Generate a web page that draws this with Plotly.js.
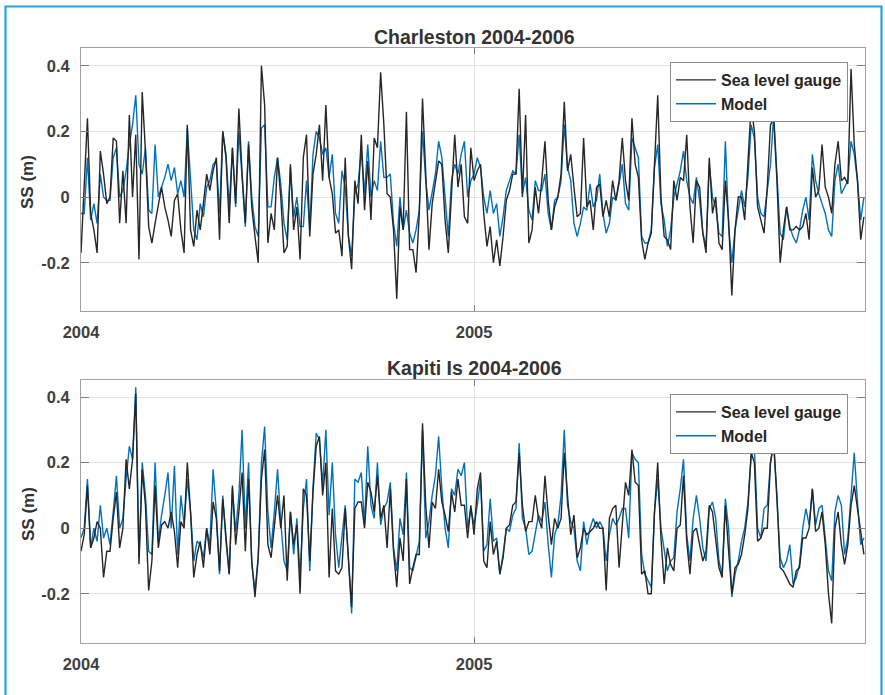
<!DOCTYPE html>
<html>
<head>
<meta charset="utf-8">
<script src="https://cdn.plot.ly/plotly-3.0.1.min.js"></script>
<style>html,body{margin:0;padding:0;background:#fff;}#chart{width:885px;height:695px;}</style>
</head>
<body>
<div id="chart"></div>
<script>
// Series sampled every 3 days from 2004-01-01
const startDate = '2004-01-01';
const stepDays = 3;

const charlestonGauge = [
-0.17,0.05,0.24,-0.05,-0.10,-0.17,0.14,0.07,-0.02,0.00,0.18,0.17,-0.08,0.08,-0.08,0.25,0.00,0.19,-0.19,0.32,0.14,-0.09,-0.14,-0.08,-0.03,0.03,-0.03,-0.07,-0.12,-0.01,0.01,-0.10,-0.17,0.22,-0.10,-0.15,-0.04,-0.10,-0.02,0.07,0.02,0.08,0.12,-0.13,0.20,0.12,-0.08,0.15,-0.02,0.27,0.07,-0.08,0.16,-0.03,-0.12,-0.20,0.40,0.28,-0.14,-0.05,-0.10,0.12,
0.00,-0.17,-0.15,0.10,-0.10,-0.03,-0.19,0.12,0.19,-0.12,0.07,0.13,0.22,0.05,0.28,0.06,0.01,-0.11,-0.10,-0.18,0.12,-0.12,-0.22,0.05,-0.02,0.19,-0.04,0.11,-0.07,0.18,0.15,0.38,0.22,0.01,0.00,-0.10,-0.31,-0.03,-0.10,0.26,-0.16,-0.16,-0.23,-0.05,0.30,0.06,-0.16,-0.02,0.05,0.11,0.10,-0.07,-0.17,0.03,0.19,0.03,0.10,-0.06,-0.08,0.15,0.05,
0.08,0.10,-0.05,-0.15,-0.09,-0.20,-0.13,-0.21,-0.12,-0.01,0.02,0.07,0.07,0.33,0.00,0.25,-0.14,-0.10,0.03,-0.05,0.05,0.17,-0.01,-0.10,-0.03,0.00,0.07,0.29,0.08,0.13,0.03,-0.06,-0.05,0.18,-0.03,-0.01,-0.10,0.03,0.04,-0.06,-0.01,-0.06,0.05,-0.01,0.05,0.18,0.05,-0.01,0.24,0.10,0.06,-0.13,-0.19,-0.14,-0.11,0.10,0.31,0.00,-0.12,-0.13,-0.16,0.05,
-0.01,0.06,0.05,0.19,-0.03,-0.14,0.05,0.03,-0.11,-0.17,0.12,-0.05,0.00,-0.14,-0.16,0.05,-0.07,-0.30,-0.10,0.00,0.00,-0.07,0.12,0.28,0.20,-0.03,-0.07,-0.11,0.03,0.22,0.24,0.05,-0.20,-0.10,-0.03,-0.10,-0.10,-0.09,-0.10,-0.09,-0.05,-0.13,0.09,0.00,0.02,0.16,0.03,0.00,-0.05,0.10,0.17,0.05,0.06,0.04,0.39,0.16,0.05,-0.13,-0.06
];

const charlestonModel = [
-0.05,-0.05,0.12,-0.07,-0.02,-0.08,0.07,0.00,-0.01,-0.01,0.12,0.15,0.00,0.02,0.08,0.16,0.22,0.31,0.10,0.07,0.15,-0.04,-0.05,0.16,0.00,0.03,0.06,0.10,0.05,0.09,0.01,0.05,0.00,0.21,0.07,-0.10,-0.13,-0.02,-0.06,0.03,0.05,0.10,0.11,-0.05,0.20,0.13,-0.03,0.15,-0.03,0.20,0.06,-0.09,0.17,0.00,-0.09,-0.12,0.21,0.22,-0.03,-0.03,0.06,0.12,
0.04,-0.08,-0.13,0.09,-0.06,0.00,-0.09,-0.09,0.05,-0.10,0.13,0.20,0.18,0.13,0.15,0.06,0.13,-0.05,-0.08,0.08,0.03,-0.12,-0.18,0.01,0.04,0.14,0.01,0.16,0.00,0.05,0.02,0.17,0.06,0.06,0.07,-0.08,-0.15,0.00,-0.10,-0.04,-0.11,-0.14,-0.10,-0.04,0.20,0.05,-0.04,0.02,0.07,0.17,0.12,0.00,-0.12,0.05,0.10,0.07,0.13,0.17,0.00,0.05,0.07,
0.12,0.09,0.00,-0.05,0.02,-0.05,-0.02,-0.12,-0.06,0.02,0.05,0.08,0.07,0.19,0.01,0.06,-0.04,-0.07,0.05,0.02,0.02,0.07,-0.05,-0.10,-0.01,0.00,0.05,0.22,0.09,0.05,-0.08,-0.12,-0.08,-0.03,-0.04,0.04,-0.03,-0.01,0.07,-0.05,-0.11,-0.08,0.00,-0.01,0.04,0.10,-0.02,-0.04,0.18,0.15,0.12,-0.12,-0.14,-0.14,-0.10,0.09,0.16,-0.02,-0.07,-0.15,-0.10,0.00,
0.04,0.08,0.14,0.05,0.00,-0.02,0.06,-0.01,-0.11,-0.15,0.10,0.00,-0.03,-0.11,-0.12,0.17,-0.09,-0.20,-0.10,-0.04,0.02,-0.03,0.06,0.22,0.18,0.00,-0.05,-0.06,0.02,0.10,0.25,0.06,-0.11,-0.13,-0.03,-0.09,-0.12,-0.14,-0.10,-0.04,0.00,-0.07,0.13,0.05,0.01,-0.02,-0.05,-0.10,-0.12,0.05,0.10,0.01,0.03,0.05,0.17,0.13,0.05,-0.07,0.00
];

const kapitiGauge = [
-0.07,-0.02,0.13,-0.06,-0.03,0.02,0.00,-0.15,-0.07,-0.07,0.03,0.11,-0.06,0.00,0.21,0.12,0.21,0.41,-0.11,0.18,0.07,-0.19,-0.10,0.13,-0.06,0.01,0.02,0.00,0.05,-0.01,-0.12,0.02,0.00,0.20,0.05,-0.15,-0.08,-0.04,-0.12,0.00,-0.08,0.08,0.03,-0.13,0.09,-0.04,-0.14,0.13,-0.05,0.05,0.17,-0.07,0.15,-0.10,-0.21,-0.09,0.15,0.24,-0.05,-0.09,0.00,0.10,
0.00,0.10,-0.16,0.05,-0.05,0.01,-0.20,0.12,0.10,-0.10,0.11,0.25,0.28,0.10,0.20,-0.15,0.06,-0.13,-0.14,-0.12,0.06,-0.10,-0.24,0.06,0.08,0.08,0.00,0.14,0.11,0.05,0.16,0.03,0.07,-0.06,0.12,-0.07,-0.18,-0.03,-0.10,0.15,-0.17,-0.12,-0.08,-0.08,0.32,0.07,-0.06,0.08,0.06,0.18,0.08,0.04,-0.01,0.11,0.05,0.15,0.07,0.07,-0.03,0.07,-0.02,
0.12,0.17,-0.10,-0.12,0.02,-0.08,-0.04,-0.14,-0.09,0.00,0.01,0.07,0.08,0.23,0.07,-0.01,0.02,0.02,0.10,0.03,0.00,0.16,0.04,-0.05,0.03,0.00,0.03,0.23,0.10,-0.02,0.04,-0.09,-0.06,0.00,-0.02,-0.01,0.00,0.02,0.00,0.00,-0.19,0.03,0.06,0.07,-0.12,0.01,0.14,0.10,0.24,0.14,0.13,-0.14,-0.13,-0.20,-0.20,0.05,0.20,-0.03,-0.17,-0.06,-0.11,-0.13,
0.00,0.01,0.16,-0.04,-0.14,-0.01,0.00,-0.05,-0.10,-0.07,0.07,0.05,-0.03,-0.12,-0.15,0.07,-0.07,-0.20,-0.12,-0.11,-0.08,-0.02,0.06,0.23,0.20,-0.04,-0.03,0.00,0.00,0.20,0.26,0.10,-0.12,-0.13,-0.15,-0.17,-0.18,-0.13,-0.12,-0.03,-0.03,0.00,0.12,-0.01,0.00,0.05,-0.05,-0.20,-0.29,0.00,0.05,-0.05,-0.11,-0.05,0.07,0.13,0.06,-0.01,-0.08
];

const kapitiModel = [
-0.03,0.00,0.15,-0.06,0.00,-0.04,0.07,-0.03,0.00,-0.05,0.05,0.16,0.00,0.03,0.15,0.25,0.21,0.43,-0.09,0.20,0.10,-0.07,-0.08,0.20,-0.04,0.04,0.10,0.17,0.00,0.19,-0.08,0.10,0.01,0.15,0.05,-0.10,-0.04,-0.05,-0.09,0.00,-0.05,0.18,0.05,-0.14,0.10,-0.04,-0.14,0.12,-0.01,0.10,0.30,0.00,0.20,-0.11,-0.19,-0.09,0.20,0.31,0.05,-0.06,0.05,0.18,
0.02,-0.10,-0.13,0.05,-0.08,0.03,-0.15,0.06,0.15,-0.13,0.12,0.29,0.27,0.13,0.30,0.04,0.20,-0.02,-0.12,-0.03,0.07,-0.10,-0.26,0.15,0.14,0.17,0.01,0.25,0.07,0.03,0.20,0.01,0.06,0.08,0.14,-0.06,-0.13,0.03,-0.02,0.17,-0.12,-0.13,-0.08,-0.04,0.30,-0.03,0.02,0.10,0.16,0.28,0.12,0.00,-0.06,0.12,0.10,0.18,0.16,0.20,0.00,0.06,0.01,
0.07,0.15,-0.07,-0.05,0.09,-0.04,-0.03,-0.14,-0.08,0.00,-0.01,0.04,0.06,0.26,0.03,0.00,-0.08,-0.07,-0.01,0.04,0.02,0.08,-0.05,-0.15,-0.02,0.01,0.10,0.30,0.07,0.02,0.00,-0.10,-0.13,0.02,-0.05,0.00,0.03,0.00,0.02,0.00,-0.10,-0.02,0.03,0.01,0.03,0.06,0.06,-0.03,0.23,0.21,0.20,-0.08,-0.14,-0.16,-0.18,0.05,0.15,0.00,-0.06,-0.13,-0.10,-0.09,
0.05,0.12,0.21,-0.02,-0.10,0.03,0.10,0.03,-0.06,-0.10,0.06,0.08,0.03,-0.10,-0.14,0.09,0.00,-0.21,-0.14,-0.10,-0.04,0.00,0.08,0.22,0.25,0.00,-0.03,0.06,0.07,0.20,0.26,0.10,-0.09,-0.12,-0.10,-0.05,-0.17,-0.15,-0.11,0.00,0.06,0.01,0.12,0.01,0.06,0.07,-0.02,-0.13,-0.16,0.05,0.10,0.07,-0.08,-0.03,0.10,0.23,0.08,-0.05,-0.03
];

const panelTitles = ['Charleston 2004-2006', 'Kapiti Is 2004-2006'];
const seriesNames = ['Sea level gauge', 'Model'];
const xTickVals = ['2004-01-01', '2005-01-01'];
const xTickText = ['2004', '2005'];
const yTickVals = [-0.2, 0, 0.2, 0.4];
const yTickText = ['-0.2', '0', '0.2', '0.4'];
const yLabel = 'SS (m)';

function datesFor(arr) {
  const t0 = new Date(startDate + 'T00:00:00Z').getTime();
  return arr.map((_, i) => new Date(t0 + i * stepDays * 86400000).toISOString().slice(0, 10));
}

const BLUE = '#0072BD', BLACK = '#262626';
const FONT = 'Liberation Sans, Arial, Helvetica, sans-serif';

const traces = [
  {x: datesFor(charlestonModel), y: charlestonModel, name: seriesNames[1], type: 'scatter', mode: 'lines',
   line: {color: BLUE, width: 1.4}, xaxis: 'x', yaxis: 'y', legend: 'legend', legendrank: 2},
  {x: datesFor(charlestonGauge), y: charlestonGauge, name: seriesNames[0], type: 'scatter', mode: 'lines',
   line: {color: BLACK, width: 1.4}, xaxis: 'x', yaxis: 'y', legend: 'legend', legendrank: 1},
  {x: datesFor(kapitiModel), y: kapitiModel, name: seriesNames[1], type: 'scatter', mode: 'lines',
   line: {color: BLUE, width: 1.4}, xaxis: 'x2', yaxis: 'y2', legend: 'legend2', legendrank: 2},
  {x: datesFor(kapitiGauge), y: kapitiGauge, name: seriesNames[0], type: 'scatter', mode: 'lines',
   line: {color: BLACK, width: 1.4}, xaxis: 'x2', yaxis: 'y2', legend: 'legend2', legendrank: 1}
];

const W = 885, H = 695;
const px = v => v / W;
const py = v => 1 - v / H;

const tickFont = {family: FONT, size: 16.5, color: '#404040', weight: 'bold'};

function xAxis(anchor) {
  return {
    type: 'date', domain: [px(81), px(865)], anchor: anchor,
    range: ['2004-01-01', '2005-12-31'],
    tickmode: 'array', tickvals: xTickVals, ticktext: xTickText,
    showgrid: true, gridcolor: '#e3e3e3', gridwidth: 1,
    ticks: 'inside', ticklen: 6, tickcolor: '#808080',
    showline: true, linecolor: '#a0a0a0', linewidth: 1, mirror: 'ticks',
    zeroline: false, tickfont: tickFont, ticklabelstandoff: 6
  };
}
function yAxis(dom, range, anchor) {
  return {
    domain: dom, anchor: anchor, range: range,
    tickmode: 'array', tickvals: yTickVals, ticktext: yTickText,
    showgrid: true, gridcolor: '#e3e3e3', gridwidth: 1,
    ticks: 'inside', ticklen: 8, tickcolor: '#808080',
    showline: true, linecolor: '#a0a0a0', linewidth: 1, mirror: 'ticks',
    zeroline: false, tickfont: tickFont, ticklabelstandoff: 7
  };
}

const legendBase = {
  xanchor: 'left', yanchor: 'top', bgcolor: '#ffffff', bordercolor: '#8c8c8c', borderwidth: 1,
  font: {family: FONT, size: 16, color: '#262626', weight: 'bold'},
  tracegroupgap: 0, itemwidth: 40
};

const titleFont = {family: FONT, size: 19.5, color: '#333333', weight: 'bold'};
const labelFont = {family: FONT, size: 17, color: '#333333', weight: 'bold'};

const layout = {
  width: W, height: H,
  margin: {l: 0, r: 0, t: 0, b: 0, autoexpand: false},
  paper_bgcolor: '#ffffff', plot_bgcolor: '#ffffff',
  showlegend: true,
  xaxis: xAxis('y'),
  yaxis: yAxis([py(311), py(48)], [-0.347, 0.454], 'x'),
  xaxis2: xAxis('y2'),
  yaxis2: yAxis([py(643), py(380)], [-0.35, 0.452], 'x2'),
  legend: Object.assign({x: px(670), y: py(62)}, legendBase),
  legend2: Object.assign({x: px(670), y: py(394)}, legendBase),
  annotations: [
    {text: panelTitles[0], xref: 'paper', yref: 'paper', x: px(474), y: py(37), xanchor: 'center', yanchor: 'middle', showarrow: false, font: titleFont},
    {text: panelTitles[1], xref: 'paper', yref: 'paper', x: px(474), y: py(368), xanchor: 'center', yanchor: 'middle', showarrow: false, font: titleFont},
    {text: yLabel, xref: 'paper', yref: 'paper', x: px(28), y: py(182), xanchor: 'center', yanchor: 'middle', textangle: -90, showarrow: false, font: labelFont},
    {text: yLabel, xref: 'paper', yref: 'paper', x: px(28), y: py(514), xanchor: 'center', yanchor: 'middle', textangle: -90, showarrow: false, font: labelFont}
  ],
  shapes: [
    {type: 'rect', xref: 'paper', yref: 'paper', x0: px(5.5), x1: px(881.5), y0: -0.05, y1: py(6.5),
     line: {color: '#22a6e0', width: 2.2}, fillcolor: 'rgba(0,0,0,0)', layer: 'above'}
  ]
};

Plotly.newPlot('chart', traces, layout, {staticPlot: true, displayModeBar: false});
</script>
</body>
</html>
